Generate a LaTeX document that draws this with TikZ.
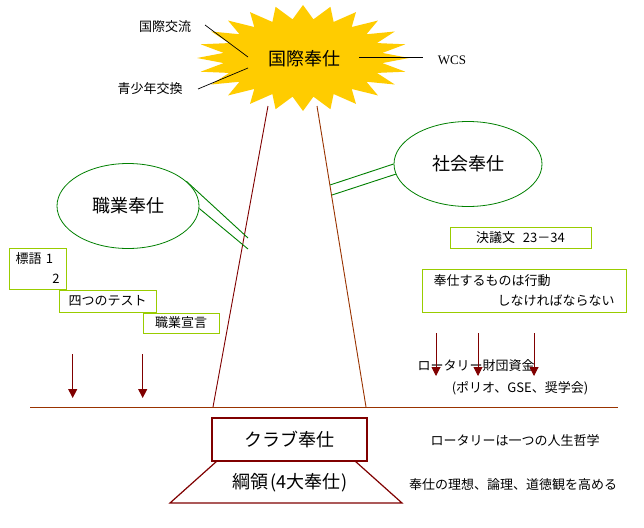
\documentclass[tikz,border=0pt]{standalone}
\usepackage{fontspec}
\setmainfont{Liberation Serif}
\newfontfamily\jp{Noto Sans CJK JP}
\usetikzlibrary{arrows.meta,shapes.geometric}
\definecolor{stary}{HTML}{FFCC00}
\definecolor{dred}{HTML}{800000}
\definecolor{tbrown}{HTML}{993300}
\definecolor{dgreen}{HTML}{008000}
\definecolor{ygreen}{HTML}{99CC00}
\begin{document}
\begin{tikzpicture}[x=1pt,y=-1pt,
  big/.style={font=\jp\fontsize{18}{21}\selectfont},
  small/.style={font=\jp\fontsize{13}{20}\selectfont},
  ybox/.style={draw=ygreen, line width=0.9pt, inner sep=0pt, small},
  ell/.style={draw=dgreen, line width=0.8pt, ellipse, minimum width=142pt, minimum height=85pt, big},
  gline/.style={draw=dgreen, line width=0.9pt},
  darr/.style={draw=dred, line width=1pt, -{Triangle[length=9pt,width=9pt]}},
  thin/.style={draw=black, line width=0.7pt}
]
\useasboundingbox (0,0) rectangle (644,527);
\fill[white] (0,0) rectangle (644,527);

% tower
\coordinate (tl) at (268,106);
\coordinate (bl) at (213,407);
\coordinate (tr) at (317,106);
\coordinate (br) at (366,407);
\draw[dred, line width=0.9pt] (tl) -- (bl);
\draw[tbrown, line width=0.9pt] (tr) -- (br);

% starburst
\fill[stary, shift={(303,58)}] (0:106 and 53)
  \foreach \i in {0,...,23} { -- (\i*15+7.5:80 and 39) -- (\i*15+15:106 and 53) } -- cycle;
\node[big] (kokusai) at (304,59) {国際奉仕};

% labels around starburst
\node[small] (kouryu) at (165,27) {国際交流};
\node[small] (seishonen) at (150,89) {青少年交換};
\node[font=\fontsize{13}{16}\selectfont] (wcs) at (452,60) {WCS};
\coordinate (a1) at (205,25);
\coordinate (c1) at (248,57);
\coordinate (a2) at (198,89);
\coordinate (c2) at (248,68);
\coordinate (a3) at (359,57);
\coordinate (c3) at (423,57);
\draw[thin] (a1) -- (c1);
\draw[thin] (a2) -- (c2);
\draw[thin] (a3) -- (c3);

% ellipses
\node[ell] (shoku) at (128,206) {職業奉仕};
\node[ell, minimum width=148pt] (shakai) at (468,164) {社会奉仕};
\coordinate (s1) at (248,238);
\coordinate (s2) at (248,249);
\draw[gline] (shoku.23) -- (s1);
\draw[gline] (shoku.-2) -- (s2);
\coordinate (r1) at (330,185);
\coordinate (r2) at (332,195);
\draw[gline] (r1) -- (shakai.180);
\draw[gline] (r2) -- (shakai.188);

% left boxes
\node[ybox, minimum width=57pt, minimum height=41pt, text width=44pt, align=left] (hyougo) at (37.5,268.5) {標語 1\\\mbox{}\hskip 0pt plus 1filll 2};
\node[ybox, minimum width=97pt, minimum height=22pt] (test) at (107.5,301) {四つのテスト};
\node[ybox, minimum width=76pt, minimum height=20pt] (sengen) at (181,323) {職業宣言};

% right boxes
\node[ybox, minimum width=141pt, minimum height=21pt] (ketsugi) at (520.5,237.5) {決議文\hspace{0.6em}23－34};
\node[ybox, minimum width=204pt, minimum height=43pt, text width=181pt, align=left] (koudou) at (524,290.5)
  {奉仕するものは行動\\\mbox{}\hskip 0pt plus 1filll しなければならない};

% arrows
\coordinate (la1) at (72.7,354); \coordinate (lb1) at (72.7,398);
\coordinate (la2) at (142.7,354); \coordinate (lb2) at (142.7,398);
\coordinate (ra1) at (436,333); \coordinate (rb1) at (436,376);
\coordinate (ra2) at (478,333); \coordinate (rb2) at (478,376);
\coordinate (ra3) at (534,333); \coordinate (rb3) at (534,376);

% foundation text
\node[small, anchor=west] (zaidan) at (414,366) {ロータリー財団資金};
\node[small] (polio) at (520,388) {(ポリオ、GSE、奨学会)};

\draw[darr] (la1) -- (lb1);
\draw[darr] (la2) -- (lb2);
\draw[darr] (ra1) -- (rb1);
\draw[darr] (ra2) -- (rb2);
\draw[darr] (ra3) -- (rb3);

% ground line
\coordinate (hl) at (30,407);
\coordinate (hr) at (618,407);
\draw[tbrown, line width=0.9pt] (hl) -- (hr);

% club box and base
\node[draw=dred, line width=1.2pt, minimum width=155pt, minimum height=43pt, big] (club) at (289.5,439.5) {クラブ奉仕};
\coordinate (p1) at (217,461);
\coordinate (p2) at (170,503);
\coordinate (p3) at (402,503);
\coordinate (p4) at (355,461);
\draw[dred, line width=1.2pt] (p1) -- (p2) -- (p3) -- (p4);
\node[big] (kouryou) at (290,483) {綱領\hspace{2pt}(4大奉仕\hspace{1pt})};

\node[small] (jinsei) at (515,441) {ロータリーは一つの人生哲学};
\node[small] (risou) at (513,485) {奉仕の理想、論理、道徳観を高める};
\end{tikzpicture}
\end{document}
